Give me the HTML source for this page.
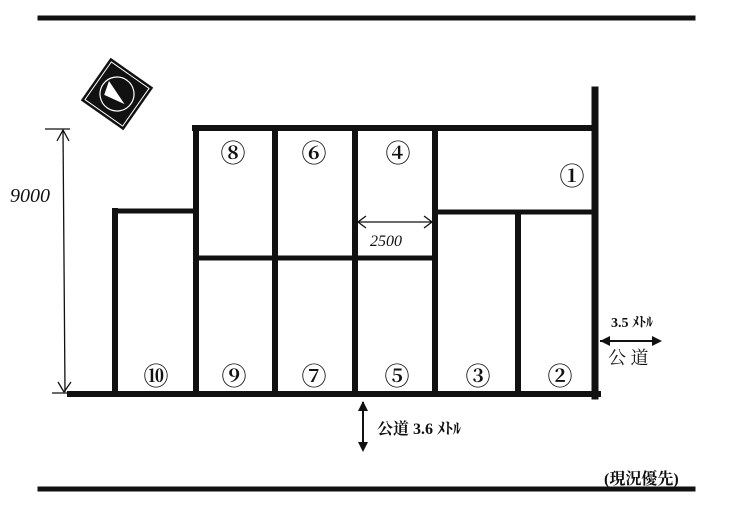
<!DOCTYPE html>
<html><head><meta charset="utf-8"><style>
body{margin:0;background:#fff;width:740px;height:510px;overflow:hidden}
</style></head><body>
<svg width="740" height="510" xmlns="http://www.w3.org/2000/svg" style="font-family:'Liberation Serif','Noto Serif CJK SC',serif">
<rect width="740" height="510" fill="#fff"/>
<g stroke="#111" fill="none" stroke-linecap="square">
<line x1="40" y1="18" x2="693" y2="18" stroke-width="5"/>
<line x1="40" y1="489" x2="693" y2="489" stroke-width="5"/>
<line x1="70" y1="394" x2="598" y2="394" stroke-width="6"/>
<line x1="595" y1="90" x2="595" y2="396" stroke-width="7"/>
<line x1="195" y1="128" x2="595" y2="128" stroke-width="6"/>
<line x1="196" y1="128" x2="196" y2="394" stroke-width="6"/>
<line x1="115" y1="211" x2="115" y2="394" stroke-width="6"/>
<line x1="115" y1="211" x2="196" y2="211" stroke-width="5"/>
<line x1="275" y1="128" x2="275" y2="394" stroke-width="6"/>
<line x1="355" y1="128" x2="355" y2="394" stroke-width="6"/>
<line x1="435" y1="128" x2="435" y2="394" stroke-width="6"/>
<line x1="518" y1="213" x2="518" y2="394" stroke-width="6"/>
<line x1="196" y1="258" x2="435" y2="258" stroke-width="5"/>
<line x1="435" y1="212" x2="595" y2="212" stroke-width="5"/>
</g>
<g stroke="#111" stroke-width="1.3" fill="none">
<line x1="63" y1="130" x2="65" y2="392"/>
<polyline points="57,141 63,130 69,141"/>
<polyline points="58,382 64,392 71,382"/>
<line x1="45" y1="129" x2="70" y2="129"/>
<line x1="52" y1="393" x2="78" y2="393"/>
<line x1="358" y1="222" x2="432" y2="222"/>
<polyline points="366,216 358,222 366,228"/>
<polyline points="424,216 432,222 424,228"/>
<line x1="600" y1="341" x2="660" y2="341" stroke-width="2"/>
<line x1="363" y1="402" x2="363" y2="450" stroke-width="2"/>
</g>
<polygon points="600,341 610,336 610,346" fill="#111"/>
<polygon points="662,341 652,336 652,346" fill="#111"/>
<polygon points="363,401 358,411 368,411" fill="#111"/>
<polygon points="363,452 358,442 368,442" fill="#111"/>
<g transform="translate(117,94) rotate(35)">
<rect x="-26" y="-26" width="52" height="52" fill="#111"/>
<rect x="-23" y="-23" width="46" height="46" fill="none" stroke="#fff" stroke-width="1"/>
<circle r="17" fill="none" stroke="#fff" stroke-width="1.2"/>
<polygon points="-14,-6 12,4 -10,8" fill="#fff"/>
</g>
<g font-size="25" font-weight="bold" text-anchor="middle" fill="#111">
<text x="233" y="162">⑧</text><text x="314" y="162">⑥</text><text x="398" y="162">④</text>
<text x="572" y="185">①</text>
<text x="156" y="385">⑩</text><text x="234" y="385">⑨</text><text x="314" y="385">⑦</text>
<text x="397" y="385">⑤</text><text x="478" y="385">③</text><text x="560" y="385">②</text>
</g>
<text x="10" y="202" font-size="20" font-style="italic" fill="#111">9000</text>
<text x="370" y="246" font-size="16" font-style="italic" fill="#111">2500</text>
<text x="611" y="327" font-size="14" font-weight="bold" fill="#111">3.5 ﾒﾄﾙ</text>
<text x="608" y="364" font-size="18" fill="#111">公 道</text>
<text x="377" y="434" font-size="16" font-weight="bold" fill="#111">公道 3.6 ﾒﾄﾙ</text>
<text x="604" y="484" font-size="16" font-weight="bold" fill="#111">(現況優先)</text>
</svg>
</body></html>
